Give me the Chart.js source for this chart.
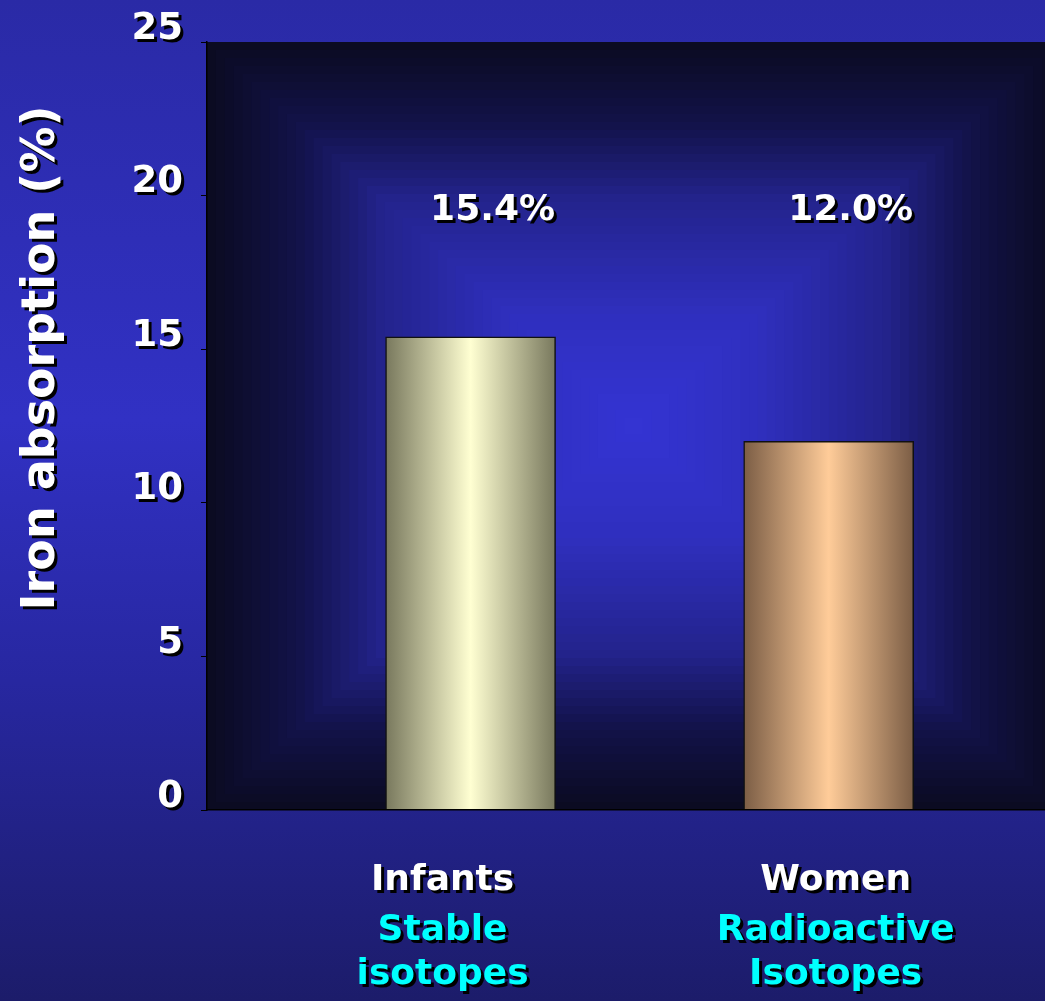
<!DOCTYPE html>
<html>
<head>
<meta charset="utf-8">
<title>Iron absorption</title>
<script src="https://cdn.jsdelivr.net/npm/chart.js@4.4.1/dist/chart.umd.min.js"></script>
<style>
  html, body { margin: 0; padding: 0; overflow: hidden; }
  body {
    width: 1045px;
    height: 1001px;
    background: linear-gradient(to bottom, #2a2aa6 0%, #3131c4 42%, #2727a0 68%, #1c1c6a 100%);
  }
  #wrap { position: relative; width: 1060px; height: 1001px; }
</style>
</head>
<body>
<div id="wrap"><canvas id="chart"></canvas></div>
<script>
const groups = ["Infants", "Women"];
const methodLines = [["Stable", "isotopes"], ["Radioactive", "Isotopes"]];
const absorption = [15.4, 12.0];
const valueLabels = ["15.4%", "12.0%"];
const yTickStep = 5;
const yMax = 25;

const barEdge = ["#78785d", "#7b5d45"];
const barMid = ["#ffffd2", "#ffcc99"];
const FONT = "'DejaVu Sans', sans-serif";
const BAR_W = 170;

// center-out rectangular fill behind the bars
const plotStops = [
  [0, [52, 52, 212]],
  [0.3, [47, 47, 190]],
  [0.6, [35, 35, 140]],
  [0.8, [18, 18, 72]],
  [1, [11, 11, 34]],
];

function plotColor(d) {
  for (let i = 1; i < plotStops.length; i++) {
    const [d1, c1] = plotStops[i];
    const [d0, c0] = plotStops[i - 1];
    if (d <= d1) {
      const t = (d - d0) / (d1 - d0);
      const c = c0.map((v, k) => Math.round(v + (c1[k] - v) * t));
      return `rgb(${c[0]}, ${c[1]}, ${c[2]})`;
    }
  }
  return "rgb(11, 11, 34)";
}

const plotBackground = {
  id: "plotBackground",
  beforeDraw(chart) {
    const { ctx, chartArea: a } = chart;
    const cx = (a.left + a.right) / 2;
    const cy = (a.top + a.bottom) / 2;
    const hw = (a.right - a.left) / 2;
    const hh = (a.bottom - a.top) / 2;
    const steps = 48;
    ctx.save();
    for (let i = 0; i < steps; i++) {
      const d = 1 - i / steps;
      ctx.fillStyle = plotColor(d);
      ctx.fillRect(cx - hw * d, cy - hh * d, 2 * hw * d, 2 * hh * d);
    }
    ctx.restore();
    // tick labels get the drop shadow
    ctx.shadowColor = "#000";
    ctx.shadowOffsetX = 3;
    ctx.shadowOffsetY = 3;
    ctx.shadowBlur = 0;
  },
  beforeDatasetsDraw(chart) {
    chart.ctx.shadowColor = "rgba(0, 0, 0, 0)";
  },
};

const textLayer = {
  id: "textLayer",
  afterDatasetsDraw(chart) {
    const { ctx, chartArea: a, scales } = chart;
    ctx.save();
    ctx.shadowColor = "#000";
    ctx.shadowOffsetX = 3;
    ctx.shadowOffsetY = 3;
    ctx.shadowBlur = 0;
    ctx.textAlign = "center";
    ctx.textBaseline = "alphabetic";

    const labelShift = [-28, 7];
    groups.forEach((name, i) => {
      const x = scales.x.getPixelForValue(i + 1);

      ctx.font = `bold 36px ${FONT}`;
      ctx.fillStyle = "#ffffff";
      ctx.fillText(valueLabels[i], x + 22, a.top + 178);

      ctx.fillText(name, x + labelShift[i], a.bottom + 80);
      ctx.fillStyle = "#00ffff";
      methodLines[i].forEach((line, j) => {
        ctx.fillText(line, x + labelShift[i], a.bottom + 130 + j * 44);
      });
    });

    ctx.translate(42, 358);
    ctx.rotate(-Math.PI / 2);
    ctx.textBaseline = "middle";
    ctx.font = `bold 46px ${FONT}`;
    ctx.fillStyle = "#ffffff";
    ctx.fillText("Iron absorption (%)", 0, 0);
    ctx.restore();
  },
};

function barFill(c) {
  const i = c.dataIndex ?? 0;
  const chart = c.chart;
  if (!chart.chartArea || c.type !== "data") return barMid[i];
  const x = chart.scales.x.getPixelForValue(i + 1);
  const g = chart.ctx.createLinearGradient(x - BAR_W / 2, 0, x + BAR_W / 2, 0);
  g.addColorStop(0, barEdge[i]);
  g.addColorStop(0.5, barMid[i]);
  g.addColorStop(1, barEdge[i]);
  return g;
}

new Chart(document.getElementById("chart"), {
  type: "bar",
  data: {
    datasets: [
      {
        data: groups.map((g, i) => ({ x: i + 1, y: absorption[i] })),
        backgroundColor: barFill,
        borderColor: "#111111",
        borderWidth: 1.5,
        barThickness: BAR_W,
      },
    ],
  },
  options: {
    responsive: true,
    maintainAspectRatio: false,
    animation: false,
    layout: { padding: { top: 42, right: 0, bottom: 0, left: 0 } },
    plugins: {
      legend: { display: false },
      tooltip: { enabled: false },
    },
    scales: {
      x: {
        type: "linear",
        offset: false,
        min: 0.264,
        max: 2.646,
        afterBuildTicks(scale) {
          scale.ticks = groups.map((_, i) => ({ value: i + 1 }));
        },
        afterFit(scale) {
          scale.height = 191;
        },
        ticks: { display: false },
        grid: { display: false, offset: false },
        border: { display: true, color: "#000000", width: 1.5, z: 1 },
      },
      y: {
        min: 0,
        max: yMax,
        afterFit(scale) {
          scale.width = 207;
        },
        ticks: {
          stepSize: yTickStep,
          color: "#ffffff",
          padding: 18,
          labelOffset: -13,
          font: { family: FONT, size: 37, weight: "bold" },
        },
        grid: {
          drawOnChartArea: false,
          drawTicks: true,
          tickLength: 6,
          color: "#000000",
          z: 1,
        },
        border: { display: true, color: "#000000", width: 1.5, z: 1 },
      },
    },
  },
  plugins: [plotBackground, textLayer],
});
</script>
</body>
</html>
